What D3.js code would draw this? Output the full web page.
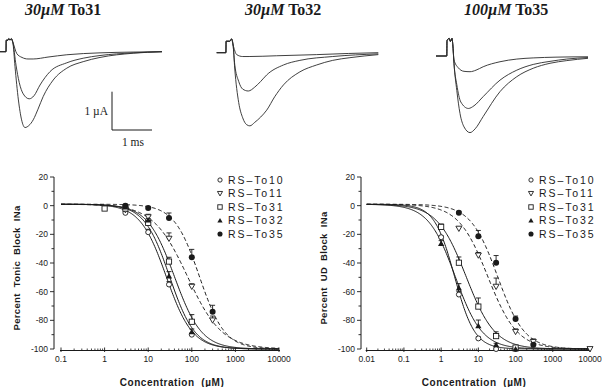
<!DOCTYPE html>
<html><head><meta charset="utf-8">
<script src="https://cdn.jsdelivr.net/npm/d3@7"></script>
<style>body{margin:0;background:#fff}svg{display:block}</style>
</head><body>
<svg id="c" width="605" height="387"></svg>
<script>
// ================= DATA =================
// Top: current traces (time in ms, current in µA)
const traceConc = ["30\u00B5M", "30\u00B5M", "100\u00B5M"];
const traceDrug = ["To31", "To32", "To35"];
const traces1 = [
  [[0,0],[0.15,0],[0.155,0.3],[0.2,0.3],[0.22,0.34],[0.25,0.3],[0.28,0.34],[0.32,0.25],[0.375,-0.39],[0.46,-1.26],[0.54,-1.78],[0.625,-1.98],[0.72,-1.93],[0.83,-1.78],[0.95,-1.5],[1.08,-1.17],[1.33,-0.74],[1.67,-0.43],[2.08,-0.26],[2.5,-0.15],[3.33,-0.04],[4.05,0]],
  [[0,0],[0.15,0],[0.155,0.3],[0.2,0.3],[0.22,0.34],[0.25,0.3],[0.28,0.34],[0.32,0.25],[0.4,-0.35],[0.48,-0.8],[0.58,-1.1],[0.73,-1.23],[0.85,-1.15],[1.0,-0.87],[1.25,-0.52],[1.67,-0.29],[2.08,-0.17],[2.5,-0.1],[3.33,-0.03],[4.05,0]],
  [[0,0],[0.15,0],[0.155,0.3],[0.2,0.3],[0.22,0.34],[0.25,0.3],[0.28,0.34],[0.32,0.25],[0.42,-0.05],[0.55,-0.15],[0.7,-0.19],[0.83,-0.19],[1.2,-0.14],[1.67,-0.08],[2.5,-0.03],[3.3,-0.01],[4.05,0]]
];
const traces2 = [
  [[0,0],[0.23,0],[0.235,0.3],[0.33,0.3],[0.37,0.36],[0.41,0.2],[0.45,-0.4],[0.55,-1.3],[0.65,-1.7],[0.75,-1.88],[0.83,-1.91],[0.95,-1.82],[1.1,-1.68],[1.25,-1.5],[1.45,-1.15],[1.67,-0.84],[2.08,-0.5],[2.5,-0.32],[2.9,-0.2],[3.33,-0.13],[4.04,-0.05]],
  [[0,0],[0.23,0],[0.235,0.3],[0.33,0.3],[0.37,0.36],[0.41,0.2],[0.45,-0.3],[0.55,-0.75],[0.65,-0.95],[0.79,-1.0],[0.95,-0.9],[1.1,-0.75],[1.25,-0.58],[1.67,-0.32],[2.08,-0.2],[2.9,-0.1],[4.04,-0.03]],
  [[0,0],[0.23,0],[0.235,0.3],[0.33,0.3],[0.37,0.36],[0.41,0.2],[0.5,-0.05],[0.65,-0.1],[0.81,-0.1],[1.5,-0.08],[2.5,-0.05],[3.3,-0.02],[4.04,0]]
];
const traces3 = [
  [[0,0],[0.27,0],[0.275,0.4],[0.33,0.46],[0.36,0.38],[0.4,0.46],[0.42,0.3],[0.45,-0.2],[0.52,-0.9],[0.6,-1.5],[0.7,-1.85],[0.85,-2.0],[0.98,-1.9],[1.18,-1.58],[1.6,-0.93],[2.02,-0.54],[2.43,-0.32],[2.85,-0.19],[3.27,-0.12],[3.8,-0.06]],
  [[0,0],[0.27,0],[0.275,0.4],[0.33,0.46],[0.36,0.38],[0.4,0.46],[0.42,0.3],[0.45,-0.2],[0.52,-0.75],[0.62,-1.2],[0.81,-1.37],[0.95,-1.3],[1.18,-1.06],[1.6,-0.63],[2.02,-0.37],[2.43,-0.22],[2.85,-0.14],[3.27,-0.08],[3.8,-0.04]],
  [[0,0],[0.27,0],[0.275,0.4],[0.33,0.46],[0.36,0.38],[0.4,0.46],[0.42,0.3],[0.45,-0.1],[0.55,-0.3],[0.7,-0.4],[0.85,-0.41],[1.0,-0.37],[1.18,-0.28],[1.6,-0.15],[2.02,-0.08],[2.43,-0.05],[3.0,-0.03],[3.8,-0.02]]
];
const scaleBarLabels = ["1 \u00B5A", "1 ms"];

// Bottom: dose-response
const seriesNames = ["RS\u2013To10", "RS\u2013To11", "RS\u2013To31", "RS\u2013To32", "RS\u2013To35"];
const markerTypes = ["circleOpen", "triDownOpen", "squareOpen", "triUpFilled", "circleFilled"];
const fitDashed = [false, true, false, false, true];

const tonicConc = [[3,10,30,100],[3,10,30,100,300],[1,3,10,30,100],[3,10,30,100],[3,10,30,100,300]];
const tonicVal  = [[-5,-18.5,-55,-90],[-3,-8,-23,-56.5,-80],[-2,-2,-12,-39,-81],[-1,-10,-49,-88],[0,-1.6,-8.6,-36,-74]];
const tonicErr  = [[1,2,2,1],[1,2,4,2,3],[1,1,3,3,5],[1,3,3,2],[1,1,3.5,5.5,4.5]];
const tonicIC50 = [26, 80, 40, 31, 150];
const tonicHill = [1.45, 1.1, 1.4, 1.5, 1.5];

const udConc = [[1,3,10,30,100],[3,10,30,100,300,10000],[1,3,10,30,100],[1,3,10,30,100],[3,10,30,100,300]];
const udVal  = [[-22,-62,-92.6,-100,-100],[-16,-34.7,-56.5,-88,-95,-100],[-14.8,-39.8,-70.4,-91,-99],[-26.4,-57.4,-83.8,-97,-100],[-5,-21.3,-39.8,-79,-97]];
const udErr  = [[1,2,1,0,0],[1,2,6,2,2,0],[2,4,6,3,1],[2,3,4,1,0],[1,4,5,2,1]];
const udIC50 = [2.3, 18, 4.7, 2.4, 33];
const udHill = [1.6, 1.1, 1.12, 1.2, 1.2];
const fitTop = 1, fitBottom = -100;

const yTickLabels = [20, 0, -20, -40, -60, -80, -100];
const tonicXTicks = [0.1, 1, 10, 100, 1000, 10000];
const udXTicks = [0.01, 0.1, 1, 10, 100, 1000, 10000];
const yTitles = ["Percent  Tonic  Block  INa", "Percent  UD  Block  INa"];
const xTitle = "Concentration  (\u00B5M)";

// ================= DRAW =================
const svg = d3.select("#c");
const ink = "#1a1a1a";

// ---- top traces ----
const pxPerMs = 40, pxPerUA = 38.3;
const panels = [
  {x0: 0, yb: 51.7, traces: traces1, tx: 25},
  {x0: 216.7, yb: 52.7, traces: traces2, tx: 245},
  {x0: 436, yb: 56, traces: traces3, tx: 464}
];
panels.forEach((p, i) => {
  const tS = d3.scaleLinear().domain([0, 1]).range([p.x0, p.x0 + pxPerMs]);
  const iS = d3.scaleLinear().domain([0, 1]).range([p.yb, p.yb - pxPerUA]);
  const line = d3.line().x(d => tS(d[0])).y(d => iS(d[1])).curve(d3.curveMonotoneX);
  svg.append("g").selectAll("path").data(p.traces).join("path")
    .attr("d", line).attr("fill", "none").attr("stroke", "#2a2a2a").attr("stroke-width", 0.9);
  const t = svg.append("text").attr("x", p.tx).attr("y", 15)
    .attr("font-family", "'Liberation Serif','Times New Roman',serif")
    .attr("font-size", 16).attr("font-weight", "bold").attr("fill", ink);
  t.append("tspan").attr("font-style", "italic").text(traceConc[i]);
  t.append("tspan").text(" " + traceDrug[i]);
  p.tS = tS; p.iS = iS;
});
// scale bar (1 µA, 1 ms) using panel 1 scales
{
  const p = panels[0];
  const bx = 112, by = 130;
  const lenT = p.tS(1) - p.tS(0);
  const lenI = p.iS(0) - p.iS(1);
  svg.append("path").attr("d", `M${bx},${by - lenI}V${by}H${bx + lenT}`)
    .attr("fill", "none").attr("stroke", ink).attr("stroke-width", 1);
  svg.append("text").attr("x", bx - 4).attr("y", by - lenI / 2 + 4).attr("text-anchor", "end")
    .attr("font-family", "'Liberation Serif','Times New Roman',serif").attr("font-size", 11.5).attr("fill", ink)
    .text(scaleBarLabels[0]);
  svg.append("text").attr("x", bx + lenT / 2 + 1).attr("y", by + 16).attr("text-anchor", "middle")
    .attr("font-family", "'Liberation Serif','Times New Roman',serif").attr("font-size", 11.5).attr("fill", ink)
    .text(scaleBarLabels[1]);
}

// ---- markers ----
function drawMarker(g, type, x, y, s) {
  const k = s || 1;
  if (type === "circleOpen") g.append("circle").attr("cx", x).attr("cy", y).attr("r", 2.5 * k).attr("fill", "#fff").attr("stroke", ink).attr("stroke-width", 0.9);
  else if (type === "circleFilled") g.append("circle").attr("cx", x).attr("cy", y).attr("r", 3 * k).attr("fill", ink);
  else if (type === "squareOpen") { const h = 2.6 * k; g.append("rect").attr("x", x - h).attr("y", y - h).attr("width", 2 * h).attr("height", 2 * h).attr("fill", "#fff").attr("stroke", ink).attr("stroke-width", 0.9); }
  else if (type === "triDownOpen") { const h = 3 * k; g.append("path").attr("d", `M${x - h},${y - h * 0.8}L${x + h},${y - h * 0.8}L${x},${y + h * 0.95}Z`).attr("fill", "#fff").attr("stroke", ink).attr("stroke-width", 0.9); }
  else if (type === "triUpFilled") { const h = 3.1 * k; g.append("path").attr("d", `M${x - h},${y + h * 0.8}L${x + h},${y + h * 0.8}L${x},${y - h * 0.95}Z`).attr("fill", ink); }
}

function drawPlot(cfg) {
  const g = svg.append("g");
  const x = d3.scaleLog().domain(cfg.xDomain).range(cfg.xRange);
  const y = d3.scaleLinear().domain([-100, 20]).range([349, 177]);
  const font = "'Liberation Sans',Arial,sans-serif";

  // y axis
  g.append("line").attr("x1", cfg.yAxisX).attr("x2", cfg.yAxisX).attr("y1", y(20)).attr("y2", y(-100)).attr("stroke", ink).attr("stroke-width", 1);
  d3.range(-100, 21, 10).forEach(v => {
    const major = v % 20 === 0;
    g.append("line").attr("x1", cfg.yAxisX).attr("x2", cfg.yAxisX - (major ? 4 : 2.5)).attr("y1", y(v)).attr("y2", y(v)).attr("stroke", ink).attr("stroke-width", 0.9);
  });
  g.selectAll("text.yt").data(yTickLabels).join("text").attr("class", "yt")
    .attr("x", cfg.yAxisX - 6).attr("y", d => y(d) + 3).attr("text-anchor", "end")
    .attr("font-family", font).attr("font-size", 8.5).attr("fill", ink).text(d => d);

  // x axis
  const xAxisY = 350.5;
  g.append("line").attr("x1", cfg.xRange[0] - 1).attr("x2", cfg.xRange[1] + 1).attr("y1", xAxisY).attr("y2", xAxisY).attr("stroke", ink).attr("stroke-width", 1);
  const decs = cfg.xTicks;
  decs.forEach((d, i) => {
    g.append("line").attr("x1", x(d)).attr("x2", x(d)).attr("y1", xAxisY + 1.5).attr("y2", xAxisY - 3).attr("stroke", ink).attr("stroke-width", 0.9);
    if (i < decs.length - 1) for (let m = 2; m <= 9; m++) {
      const xv = x(d * m);
      g.append("line").attr("x1", xv).attr("x2", xv).attr("y1", xAxisY).attr("y2", xAxisY - 2).attr("stroke", ink).attr("stroke-width", 0.8);
    }
  });
  g.selectAll("text.xt").data(decs).join("text").attr("class", "xt")
    .attr("x", d => x(d)).attr("y", 361.5).attr("text-anchor", "middle")
    .attr("font-family", font).attr("font-size", 8.5).attr("fill", ink).text(d => d);

  // titles
  g.append("text").attr("transform", `translate(${cfg.yTitleX},${268}) rotate(-90)`).attr("text-anchor", "middle")
    .style("white-space", "pre")
    .attr("font-family", font).attr("font-size", 9.5).attr("font-weight", "bold").attr("letter-spacing", 0.35).attr("fill", ink).text(cfg.yTitle);
  g.append("text").attr("x", cfg.xTitleX).attr("y", 385.5).attr("text-anchor", "middle")
    .style("white-space", "pre")
    .attr("font-family", font).attr("font-size", 10).attr("font-weight", "bold").attr("letter-spacing", 0.55).attr("fill", ink).text(xTitle);

  // fits
  const hill = (c, ic, n) => fitTop + (fitBottom - fitTop) / (1 + Math.pow(ic / c, n));
  const lg0 = Math.log10(cfg.xDomain[0]), lg1 = Math.log10(cfg.xDomain[1]);
  const cs = d3.range(0, 301).map(i => Math.pow(10, lg0 + (lg1 - lg0) * i / 300));
  const line = d3.line().x(d => x(d[0])).y(d => y(d[1]));
  cfg.ic50.forEach((ic, s) => {
    g.append("path").attr("d", line(cs.map(c => [c, hill(c, ic, cfg.hill[s])])))
      .attr("fill", "none").attr("stroke", ink).attr("stroke-width", 1)
      .attr("stroke-dasharray", fitDashed[s] ? "4,2.5" : null);
  });

  // error bars + markers
  cfg.conc.forEach((cArr, s) => {
    cArr.forEach((c, j) => {
      const e = cfg.err[s][j];
      if (e > 0.5) {
        const px = x(c), py = y(cfg.val[s][j]), pe = y(cfg.val[s][j] + e);
        g.append("path").attr("d", `M${px},${py}V${pe}M${px - 2.5},${pe}H${px + 2.5}`).attr("stroke", ink).attr("stroke-width", 0.9).attr("fill", "none");
      }
    });
  });
  cfg.conc.forEach((cArr, s) => {
    cArr.forEach((c, j) => drawMarker(g, markerTypes[s], x(c), y(cfg.val[s][j])));
  });

  // legend
  seriesNames.forEach((n, i) => {
    const ly = 180 + i * 13.5;
    drawMarker(g, markerTypes[i], cfg.legX, ly, 0.85);
    g.append("text").attr("x", cfg.legX + 8).attr("y", ly + 3.8).attr("font-family", font).attr("font-size", 10.5)
      .attr("letter-spacing", 1.9).attr("fill", ink).text(n);
  });
}

drawPlot({xDomain: [0.1, 10000], xRange: [61, 279], xTicks: tonicXTicks, yAxisX: 54, yTitleX: 20, xTitleX: 172,
  yTitle: yTitles[0], conc: tonicConc, val: tonicVal, err: tonicErr, ic50: tonicIC50, hill: tonicHill, legX: 220});
drawPlot({xDomain: [0.01, 10000], xRange: [366.7, 590], xTicks: udXTicks, yAxisX: 361, yTitleX: 327, xTitleX: 474,
  yTitle: yTitles[1], conc: udConc, val: udVal, err: udErr, ic50: udIC50, hill: udHill, legX: 531});
</script>
</body></html>
